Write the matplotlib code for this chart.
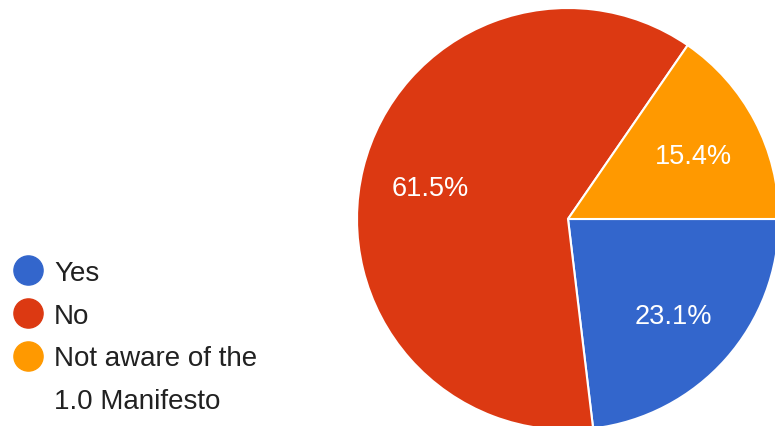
import matplotlib.pyplot as plt
from matplotlib.lines import Line2D

# ---------------- DATA ---------------- #
labels = ["Yes", "No", "Not aware of the\n1.0 Manifesto"]
shares = [23.1, 61.5, 15.4]
colors = ["#3366cc", "#dc3912", "#ff9900"]

TEXT_COLOR = "#212121"
plt.rcParams['font.family'] = ['Liberation Sans', 'DejaVu Sans']

# ---------------- PLOT ---------------- #
fig = plt.figure(figsize=(7.75, 4.27), dpi=100)
ax = fig.add_axes([0, 0, 1, 1])

wedges, texts, autotexts = ax.pie(
    shares,
    colors=colors,
    center=(568, 207),
    radius=211,
    startangle=0,
    counterclock=False,
    autopct=lambda p: f"{p:.1f}%",
    pctdistance=0.67,
    wedgeprops=dict(edgecolor="white", linewidth=1.5),
    textprops=dict(color="white", fontsize=19.5),
    frame=True,
)
# nudge the percentages slightly down
for t in autotexts:
    x, y = t.get_position()
    t.set_position((x, y - 3))
ax.set_xlim(0, 775)
ax.set_ylim(0, 427)
ax.set_aspect('equal')
ax.axis('off')

# legend rows: wrapped labels keep their marker on the first line
rows_h, rows_l = [], []
for c, lab in zip(colors, labels):
    lines = lab.split("\n")
    rows_h.append(Line2D([], [], marker='o', linestyle='none', markersize=21,
                         markerfacecolor=c, markeredgecolor=c))
    rows_l.append(lines[0])
    for extra in lines[1:]:
        rows_h.append(Line2D([], [], linestyle='none'))
        rows_l.append(extra)

leg = fig.legend(
    rows_h, rows_l,
    loc='upper left',
    bbox_to_anchor=(0.0, 0.415),
    frameon=False,
    fontsize=20,
    labelcolor=TEXT_COLOR,
    handletextpad=0.35,
    handlelength=1.2,
    labelspacing=0.6,
    borderaxespad=0.0,
)

fig.savefig("out.png", dpi=100)
